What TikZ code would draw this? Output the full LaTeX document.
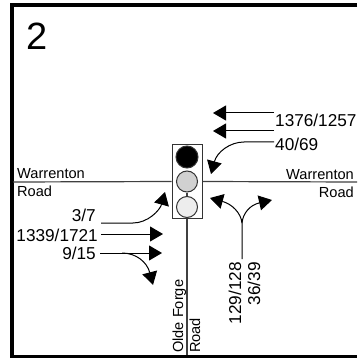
\documentclass[tikz,border=0pt]{standalone}
\usepackage{fontspec}
\setmainfont{Liberation Sans}
\usetikzlibrary{arrows.meta}
\begin{document}
\begin{tikzpicture}[x=1pt, y=-1pt, >={Triangle[length=13pt, width=15pt]},
		frameline/.style={draw=black, line width=4pt},
		road/.style={draw=black!75, line width=1.2pt},
		flow/.style={->, draw=black, line width=1pt},
		light/.style={circle, draw=black!80, line width=1pt, minimum size=21pt, inner sep=0pt},
		vol/.style={inner sep=0pt, font=\fontsize{17.2}{17.2}\selectfont},
		street/.style={inner sep=0pt, font=\fontsize{14.6}{14.6}\selectfont}]
		\useasboundingbox (0, 0) rectangle (357, 358);
		
		% Moldura
		\coordinate (f_tl) at (11.5, 5.5);
		\coordinate (f_tr) at (357, 5.5);
		\coordinate (f_bl) at (11.5, 357);
		\coordinate (f_br) at (357, 357);
		\draw[frameline] (f_tr) -- (f_tl) -- (f_bl) -- (f_br);
		\node[inner sep=0pt, font=\fontsize{38}{38}\selectfont, anchor=base west] (num) at (26, 50) {2};
		
		% Vias
		\coordinate (w_l) at (13, 182);
		\coordinate (w_r) at (357, 182);
		\coordinate (o_b) at (187, 355);
		\node[draw=black!80, line width=1pt, minimum width=30pt, minimum height=73pt, inner sep=0pt] (signal) at (187, 181.5) {};
		\draw[road] (w_l) -- (signal.west);
		\draw[road] (signal.east) -- (w_r);
		\draw[road] (signal.south) -- (o_b);
		
		% Semaforo
		\node[light, fill=black, minimum size=22pt] (red) at (187, 157) {};
		\node[light, fill=black!18] (amber) at (187, 181.5) {};
		\node[light, fill=black!7] (green) at (187, 207) {};
		\draw[road] (amber) -- (green);
		
		% Nomes das vias
		\node[street, anchor=base west] (w1_t) at (17, 178) {Warrenton};
		\node[street, anchor=base west] (r1_t) at (17, 196) {Road};
		\node[street, anchor=base east] (w2_t) at (354, 179) {Warrenton};
		\node[street, anchor=base east] (r2_t) at (354, 197) {Road};
		\node[street, rotate=90, anchor=base west] (o_t) at (183, 353) {Olde Forge};
		\node[street, rotate=90, anchor=base west] (r3_t) at (200, 353) {Road};
		
		% Volumes
		\node[vol, anchor=base west] (v1) at (275, 127) {1376/1257};
		\node[vol, anchor=base west] (v2) at (275, 150) {40/69};
		\node[vol, anchor=base east] (v3) at (96, 221) {3/7};
		\node[vol, anchor=base east] (v4) at (98, 241) {1339/1721};
		\node[vol, anchor=base east] (v5) at (96, 259) {9/15};
		\node[vol, rotate=90, anchor=base east] (v6) at (241, 262) {129/128};
		\node[vol, rotate=90, anchor=base east] (v7) at (260, 262) {36/39};
		
		% Pontas das setas
		\coordinate (wb1_s) at (274, 113);
		\coordinate (wb1_e) at (213, 113);
		\coordinate (wb2_s) at (274, 131);
		\coordinate (wb2_e) at (213, 131);
		\coordinate (wb3_s) at (274, 142);
		\coordinate (wb3_e) at (211, 174);
		\coordinate (eb1_s) at (101, 223);
		\coordinate (eb1_e) at (165, 192);
		\coordinate (eb2_s) at (101, 234);
		\coordinate (eb2_e) at (163, 234);
		\coordinate (eb3_s) at (100, 253);
		\coordinate (eb3_e) at (162, 253);
		\coordinate (eb4_e) at (153, 285);
		\coordinate (nb_s) at (242, 259);
		\coordinate (nb_m) at (242, 223);
		\coordinate (nb1_e) at (210, 198);
		\coordinate (nb2_e) at (272, 200);
		
		% Setas
		\draw[flow] (wb1_s) -- (wb1_e);
		\draw[flow] (wb2_s) -- (wb2_e);
		\draw[flow] (wb3_s) -- (244, 142) .. controls (230, 142) and (217, 152) .. (wb3_e);
		\draw[flow] (eb1_s) -- (133, 223) .. controls (148, 223) and (160, 210) .. (eb1_e);
		\draw[flow] (eb2_s) -- (eb2_e);
		\draw[flow] (eb3_s) -- (eb3_e);
		\draw[flow] (122, 253) .. controls (136, 253) and (147, 262) .. (eb4_e);
		\draw[flow] (nb_s) -- (nb_m) .. controls (241, 213) and (232, 204) .. (nb1_e);
		\draw[flow] (nb_m) .. controls (243, 213) and (250, 205) .. (nb2_e);
	\end{tikzpicture}
\end{document}
